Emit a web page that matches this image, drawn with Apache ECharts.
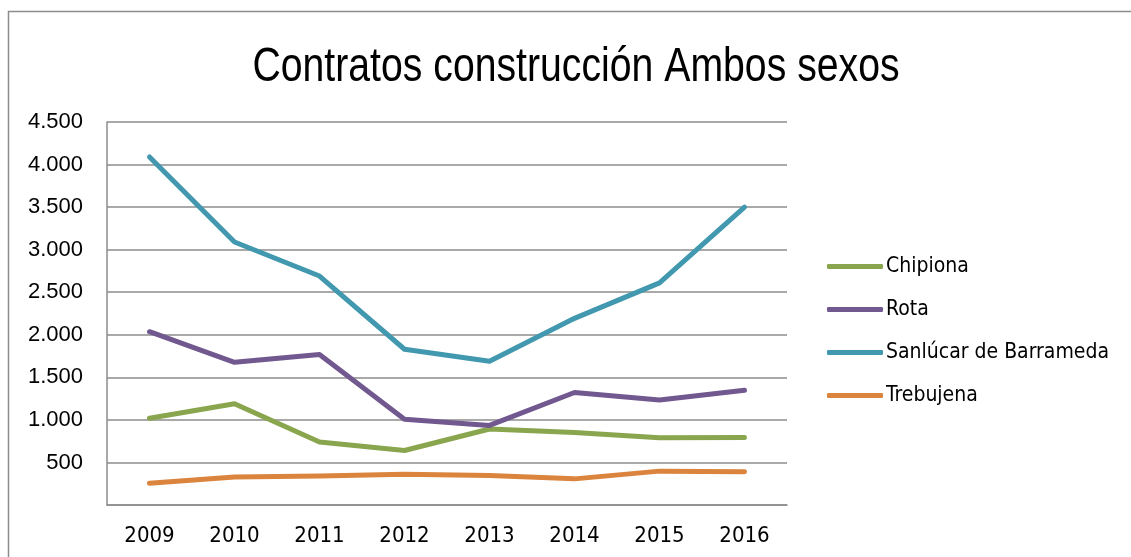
<!DOCTYPE html>
<html>
<head>
<meta charset="utf-8">
<script src="https://cdn.jsdelivr.net/npm/echarts@6/dist/echarts.min.js"></script>
<style>
    html, body { margin: 0; padding: 0; background: #fff; }
    #main { width: 1131px; height: 557px; }
</style>
</head>
<body>
<div id="main"></div>
<script>
var years = ['2009', '2010', '2011', '2012', '2013', '2014', '2015', '2016'];
var chipiona = [1020, 1190, 740, 640, 893, 852, 790, 793];
var rota = [2036, 1676, 1768, 1008, 935, 1322, 1234, 1347];
var sanlucar = [4090, 3090, 2690, 1830, 1690, 2193, 2610, 3500];
var trebujena = [255, 330, 342, 360, 346, 307, 398, 391];

var names = ['Chipiona', 'Rota', 'Sanlúcar de Barrameda', 'Trebujena'];
var colors = ['#89A54E', '#71588F', '#4198AF', '#DB843D'];
var narrow = "'DejaVu Sans Condensed', 'DejaVu Sans', sans-serif";

function fmt(v)
{
    if (v === 0) return '';
    return String(v).replace(/\B(?=(\d{3})+(?!\d))/g, '.');
}

var dom = document.getElementById('main');
var myChart = echarts.init(dom);

var $series = [];
[chipiona, rota, sanlucar, trebujena].forEach(function(data, i){
    $series.push({
        name: names[i],
        type: 'line',
        data: data,
        symbol: 'none',
        lineStyle: { width: 5, color: colors[i], cap: 'round', join: 'round' },
        itemStyle: { color: colors[i] }
    });
});

var option = {
    animation: false,
    graphic: [{
        type: 'rect',
        shape: { x: 8.5, y: 11.5, width: 1200, height: 600 },
        style: { fill: 'none', stroke: '#8c8c8c', lineWidth: 1.5 },
        silent: true
    }, {
        // titulo estrecho
        type: 'text',
        x: 576,
        y: 67,
        scaleX: 0.8,
        style: {
            text: 'Contratos construcción Ambos sexos',
            font: '49px "Liberation Sans", sans-serif',
            fill: '#000',
            textAlign: 'center',
            textVerticalAlign: 'middle'
        },
        silent: true
    }],
    legend: {
        orient: 'vertical',
        left: 822,
        top: 251,
        itemWidth: 56,
        itemHeight: 5,
        itemGap: 22,
        icon: 'roundRect',
        data: names,
        textStyle: {
            fontFamily: narrow,
            fontSize: 21,
            color: '#000',
            padding: [0, 0, 0, -2]
        }
    },
    grid: {
        left: 107,
        right: 1131 - 787,
        top: 122,
        bottom: 557 - 505,
        containLabel: false
    },
    xAxis: {
        type: 'category',
        data: years,
        boundaryGap: true,
        axisLine: { lineStyle: { color: '#8c8c8c', width: 1.5 } },
        axisTick: { show: false },
        axisLabel: {
            margin: 20,
            fontFamily: narrow,
            fontSize: 22,
            color: '#000'
        }
    },
    yAxis: {
        type: 'value',
        min: 0,
        max: 4500,
        interval: 500,
        axisLine: { show: true, lineStyle: { color: '#8c8c8c', width: 1.5 } },
        axisTick: { show: false },
        splitLine: { lineStyle: { color: '#8c8c8c', width: 1.5 } },
        axisLabel: {
            margin: 24,
            fontFamily: 'Liberation Sans',
            fontSize: 22,
            color: '#000',
            formatter: fmt
        }
    },
    series: $series
};

myChart.setOption(option, true);
</script>
</body>
</html>
